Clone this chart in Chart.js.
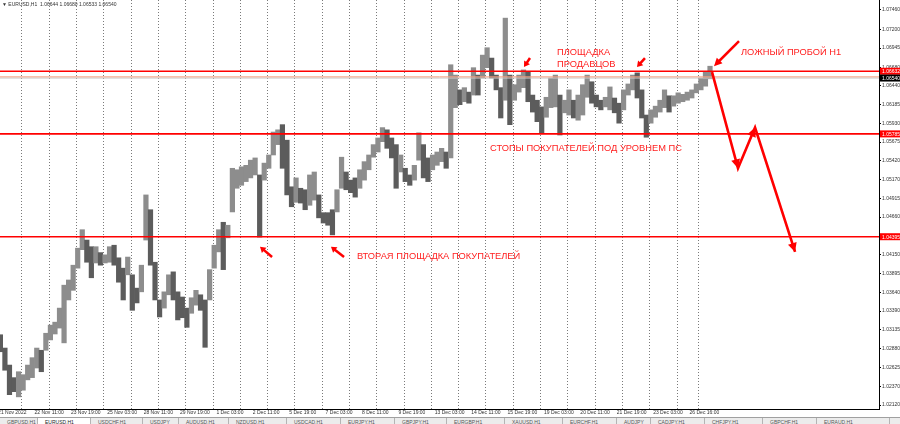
<!DOCTYPE html>
<html>
<head>
<meta charset="utf-8">
<script src="https://cdn.jsdelivr.net/npm/chart.js@4.4.1/dist/chart.umd.min.js"></script>
<style>
  html, body { margin: 0; padding: 0; background: #fff; }
  #wrap { position: relative; width: 900px; height: 424px; overflow: hidden; }
  #chart { position: absolute; left: 0; top: 0; }
  #tabs { position: absolute; left: 0; top: 417px; width: 900px; height: 7px; background: #ececec;
          border-top: 1px solid #a0a0a0; display: flex; font: 5px "Liberation Sans", sans-serif; color: #555; overflow: hidden; }
  .tab { box-sizing: border-box; height: 7px; border-right: 1px solid #b4b4b4; padding: 1px 0 0 7px; white-space: nowrap; overflow: hidden; }
  .tab.active { background: #fff; color: #222; }
</style>
</head>
<body>
<div id="wrap">
  <canvas id="chart" width="900" height="417"></canvas>
  <div id="tabs"></div>
</div>
<script>
// EURUSD H1, one entry per 4 hourly bars (low / high)
const lows = [
  1.0284, 1.0259, 1.0226, 1.0230, 1.0223, 1.0232, 1.0246, 1.0249, 1.0262, 1.0257,
  1.0286, 1.0300, 1.0308, 1.0316, 1.0296, 1.0354, 1.0367, 1.0397, 1.0422, 1.0405,
  1.0384, 1.0404, 1.0401, 1.0404, 1.0405, 1.0401, 1.0378, 1.0354, 1.0388, 1.0340,
  1.0350, 1.0365, 1.0435, 1.0401, 1.0354, 1.0331, 1.0343, 1.0361, 1.0354, 1.0327,
  1.0330, 1.0317, 1.0336, 1.0347, 1.0340, 1.0290, 1.0354, 1.0397, 1.0419, 1.0395,
  1.0438, 1.0473, 1.0505, 1.0509, 1.0514, 1.0519, 1.0523, 1.0439, 1.0516, 1.0532,
  1.0550, 1.0564, 1.0532, 1.0496, 1.0480, 1.0486, 1.0485, 1.0476, 1.0482, 1.0489,
  1.0465, 1.0458, 1.0455, 1.0442, 1.0473, 1.0505, 1.0503, 1.0499, 1.0493, 1.0505,
  1.0516, 1.0530, 1.0547, 1.0554, 1.0568, 1.0559, 1.0546, 1.0505, 1.0527, 1.0514,
  1.0509, 1.0516, 1.0543, 1.0519, 1.0514, 1.0530, 1.0536, 1.0541, 1.0532, 1.0546,
  1.0614, 1.0618, 1.0622, 1.0620, 1.0631, 1.0631, 1.0654, 1.0668, 1.0654, 1.0638,
  1.0600, 1.0624, 1.0591, 1.0624, 1.0635, 1.0641, 1.0622, 1.0608, 1.0595, 1.0580,
  1.0601, 1.0614, 1.0615, 1.0577, 1.0607, 1.0604, 1.0600, 1.0597, 1.0604, 1.0628,
  1.0620, 1.0615, 1.0611, 1.0615, 1.0611, 1.0607, 1.0593, 1.0611, 1.0631, 1.0638,
  1.0627, 1.0600, 1.0574, 1.0593, 1.0601, 1.0608, 1.0614, 1.0608, 1.0616, 1.0620,
  1.0622, 1.0624, 1.0627, 1.0634, 1.0638, 1.0643, 1.0653
];
const highs = [
  1.0307, 1.0289, 1.0266, 1.0249, 1.0257, 1.0253, 1.0266, 1.0276, 1.0289, 1.0286,
  1.0309, 1.0320, 1.0324, 1.0343, 1.0374, 1.0381, 1.0401, 1.0424, 1.0449, 1.0435,
  1.0426, 1.0426, 1.0418, 1.0415, 1.0426, 1.0428, 1.0411, 1.0397, 1.0412, 1.0388,
  1.0370, 1.0401, 1.0496, 1.0476, 1.0405, 1.0354, 1.0365, 1.0388, 1.0392, 1.0365,
  1.0358, 1.0343, 1.0357, 1.0367, 1.0361, 1.0354, 1.0395, 1.0428, 1.0449, 1.0459,
  1.0455, 1.0532, 1.0530, 1.0534, 1.0536, 1.0543, 1.0546, 1.0523, 1.0539, 1.0550,
  1.0581, 1.0584, 1.0591, 1.0570, 1.0507, 1.0519, 1.0505, 1.0503, 1.0523, 1.0527,
  1.0496, 1.0472, 1.0472, 1.0476, 1.0503, 1.0547, 1.0527, 1.0516, 1.0519, 1.0530,
  1.0541, 1.0550, 1.0564, 1.0573, 1.0587, 1.0584, 1.0573, 1.0564, 1.0550, 1.0532,
  1.0523, 1.0536, 1.0580, 1.0564, 1.0546, 1.0550, 1.0554, 1.0559, 1.0554, 1.0672,
  1.0658, 1.0638, 1.0641, 1.0635, 1.0668, 1.0658, 1.0685, 1.0695, 1.0681, 1.0658,
  1.0641, 1.0735, 1.0658, 1.0645, 1.0658, 1.0665, 1.0662, 1.0631, 1.0624, 1.0615,
  1.0628, 1.0654, 1.0658, 1.0631, 1.0624, 1.0638, 1.0624, 1.0631, 1.0645, 1.0658,
  1.0649, 1.0631, 1.0624, 1.0628, 1.0642, 1.0627, 1.0620, 1.0638, 1.0646, 1.0658,
  1.0661, 1.0638, 1.0604, 1.0611, 1.0616, 1.0624, 1.0638, 1.0630, 1.0630, 1.0634,
  1.0632, 1.0635, 1.0638, 1.0646, 1.0654, 1.0662, 1.0670
];

const timeLabels = [
  "21 Nov 2022", "22 Nov 11:00", "23 Nov 19:00", "25 Nov 03:00", "28 Nov 11:00",
  "29 Nov 19:00", "1 Dec 03:00", "2 Dec 11:00", "5 Dec 19:00", "7 Dec 03:00",
  "8 Dec 11:00", "9 Dec 19:00", "13 Dec 03:00", "14 Dec 11:00", "15 Dec 19:00",
  "19 Dec 03:00", "20 Dec 11:00", "21 Dec 19:00", "23 Dec 03:00", "26 Dec 16:00"
];
const timeTickBars = [0, 32, 64, 96, 128, 160, 192, 224, 256, 288, 320, 352, 384, 416, 448, 480, 512, 544, 576, 608];
const dayGridBars = [21, 45, 69, 93, 117, 141, 165, 189, 213, 237, 261, 285, 309, 333, 357, 381, 405, 429, 453, 477, 501, 525, 549, 573, 597, 616];

const priceTicks = [
  1.07460, 1.07200, 1.06945, 1.06680, 1.06440, 1.06185, 1.05930, 1.05675, 1.05420, 1.05170,
  1.04915, 1.04660, 1.04150, 1.03895, 1.03640, 1.03390, 1.03135, 1.02880, 1.02625, 1.02370, 1.02120
];

const levelPrices = [1.06632, 1.05785, 1.04395];
const askPrice = 1.06556;
const bidPrice = 1.06540;
const titleText = "\u25BC EURUSD,H1  1.06644 1.06680 1.06533 1.06540";

// drawn forecast path (bar index, price)
const forecastBars = [627.8, 650.6, 665.6, 700.8];
const forecastPrices = [1.0662, 1.0532, 1.0587, 1.0419];

// small pointer arrows: [fromBar, fromPrice, toBar, toPrice]
const pointerArrows = [
  [651.5, 1.0704, 629.5, 1.0670],
  [467.7, 1.0681, 462.4, 1.0669],
  [568.8, 1.0681, 561.8, 1.0669],
  [240.9, 1.0412, 230.3, 1.0426],
  [304.2, 1.0412, 292.7, 1.0426]
];

const notes = [
  ["ПЛОЩАДКА", 557, 52],
  ["ПРОДАВЦОВ", 557, 64],
  ["ЛОЖНЫЙ ПРОБОЙ Н1", 741, 52],
  ["СТОПЫ ПОКУПАТЕЛЕЙ ПОД УРОВНЕМ ПС", 490, 148],
  ["ВТОРАЯ ПЛОЩАДКА ПОКУПАТЕЛЕЙ", 357, 256]
];

const tabNames = ["GBPUSD,H1", "EURUSD,H1", "USDCHF,H1", "USDJPY", "AUDUSD,H1", "NZDUSD,H1", "USDCAD,H1",
  "EURJPY,H1", "GBPJPY,H1", "EURGBP,H1", "XAUUSD,H1", "EURCHF,H1", "AUDJPY", "CADJPY,H1", "CHFJPY,H1", "GBPCHF,H1", "EURAUD,H1"];
const tabWidths = [38, 53, 52, 36, 50, 58, 54, 54, 52, 58, 58, 54, 34, 54, 58, 54, 73];

const X_MIN = 1.67, X_MAX = 774.6;
const Y_MIN = 1.02066, Y_MAX = 1.07595;
const RED = "#ff0000";
const UP = "#8d8d8d", DOWN = "#5c5c5c";

const tabs = document.getElementById("tabs");
tabNames.forEach((name, i) => {
  const d = document.createElement("div");
  d.className = "tab" + (i === 1 ? " active" : "");
  d.style.width = tabWidths[i] + "px";
  d.textContent = name;
  tabs.appendChild(d);
});

const sampleBars = lows.map((_, i) => i * 4 + 2);
const barColors = lows.map((lo, i) => {
  if (i === 0) return DOWN;
  const mid = (lo + highs[i]) / 2;
  const prev = (lows[i - 1] + highs[i - 1]) / 2;
  return mid >= prev ? UP : DOWN;
});

function hLine(price, color, width) {
  return {
    type: "line",
    data: [{ x: X_MIN, y: price }, { x: X_MAX, y: price }],
    borderColor: color,
    borderWidth: width,
    pointRadius: 0,
    order: 2
  };
}

function arrowHead(ctx, x0, y0, x1, y1, len, half) {
  const a = Math.atan2(y1 - y0, x1 - x0);
  const bx = x1 - len * Math.cos(a), by = y1 - len * Math.sin(a);
  ctx.beginPath();
  ctx.moveTo(x1, y1);
  ctx.lineTo(bx + half * Math.sin(a), by - half * Math.cos(a));
  ctx.lineTo(bx - half * Math.sin(a), by + half * Math.cos(a));
  ctx.closePath();
  ctx.fill();
}

const overlay = {
  id: "overlay",
  afterDatasetsDraw(chart) {
    const { ctx, scales } = chart;
    const px = b => scales.x.getPixelForValue(b);
    const py = p => scales.y.getPixelForValue(p);
    ctx.save();
    ctx.fillStyle = RED;
    ctx.strokeStyle = RED;

    for (let i = 1; i < forecastBars.length; i++) {
      arrowHead(ctx, px(forecastBars[i - 1]), py(forecastPrices[i - 1]),
        px(forecastBars[i]), py(forecastPrices[i]), 9, 4.5);
    }

    pointerArrows.forEach((a, i) => {
      const x0 = px(a[0]), y0 = py(a[1]), x1 = px(a[2]), y1 = py(a[3]);
      const big = i === 0;
      const len = big ? 8 : 5.5;
      const ang = Math.atan2(y1 - y0, x1 - x0);
      ctx.lineWidth = 2.5;
      ctx.beginPath();
      ctx.moveTo(x0, y0);
      ctx.lineTo(x1 - (len - 1) * Math.cos(ang), y1 - (len - 1) * Math.sin(ang));
      ctx.stroke();
      arrowHead(ctx, x0, y0, x1, y1, len, big ? 4 : 3.5);
    });

    ctx.font = '9.3px "Liberation Sans", Arial, sans-serif';
    ctx.textBaseline = "middle";
    ctx.textAlign = "left";
    ctx.fillStyle = "#ff2020";
    notes.forEach(n => ctx.fillText(n[0], n[1], n[2]));
    ctx.restore();
  },
  afterDraw(chart) {
    const { ctx, scales, chartArea } = chart;
    const py = p => scales.y.getPixelForValue(p);
    ctx.save();
    ctx.font = '5px "Liberation Sans", Arial, sans-serif';
    ctx.textBaseline = "middle";
    ctx.textAlign = "left";
    const box = (price, bg) => {
      const y = py(price);
      ctx.fillStyle = bg;
      ctx.fillRect(chartArea.right + 1, y - 3.5, 900 - chartArea.right, 7);
      ctx.fillStyle = "#fff";
      ctx.fillText(price.toFixed(5), chartArea.right + 3, y + 0.5);
    };
    levelPrices.forEach(p => box(p, RED));
    box(bidPrice, "#000");

    ctx.fillStyle = "#333";
    ctx.fillText(titleText, 2, 4.5);
    ctx.restore();
  }
};

new Chart(document.getElementById("chart"), {
  type: "bar",
  data: {
    datasets: [
      {
        type: "bar",
        data: sampleBars.map((b, i) => ({ x: b, y: [lows[i], highs[i]] })),
        backgroundColor: barColors,
        barPercentage: 1,
        categoryPercentage: 1,
        order: 3
      },
      ...levelPrices.map(p => hLine(p, RED, 1.6)),
      hLine(askPrice, "#f5a080", 1),
      hLine(bidPrice, "#c8c8c8", 1),
      {
        type: "line",
        data: forecastBars.map((b, i) => ({ x: b, y: forecastPrices[i] })),
        borderColor: RED,
        borderWidth: 2.6,
        pointRadius: 0,
        tension: 0,
        order: 1
      }
    ]
  },
  options: {
    responsive: false,
    animation: false,
    devicePixelRatio: 1,
    layout: { padding: 0 },
    plugins: { legend: { display: false }, tooltip: { enabled: false } },
    scales: {
      x: {
        type: "linear",
        position: "bottom",
        offset: false,
        min: X_MIN,
        max: X_MAX,
        afterBuildTicks: s => { s.ticks = timeTickBars.map(v => ({ value: v })); },
        afterFit: s => { s.height = 8; s.paddingLeft = 0; s.paddingRight = 0; },
        ticks: {
          autoSkip: false,
          maxRotation: 0,
          align: "start",
          padding: 1,
          color: "#333",
          font: { family: "Liberation Sans", size: 5 },
          callback: (v, i) => timeLabels[i]
        },
        grid: { display: false, drawTicks: false, tickLength: 0, offset: false },
        border: { color: "#000", width: 1 }
      },
      xg: {
        type: "linear",
        position: "bottom",
        offset: false,
        min: X_MIN,
        max: X_MAX,
        afterBuildTicks: s => { s.ticks = dayGridBars.map(v => ({ value: v })); },
        afterFit: s => { s.height = 0; s.paddingLeft = 0; s.paddingRight = 0; },
        ticks: { display: false, autoSkip: false },
        grid: { color: "#7a7a7a", lineWidth: 1, drawTicks: false, offset: false },
        border: { display: false, dash: [1, 2] }
      },
      y: {
        type: "linear",
        position: "right",
        min: Y_MIN,
        max: Y_MAX,
        afterBuildTicks: s => { s.ticks = priceTicks.map(v => ({ value: v })); },
        afterFit: s => { s.width = 21; s.paddingTop = 0; s.paddingBottom = 0; },
        ticks: {
          autoSkip: false,
          padding: 1,
          color: "#333",
          font: { family: "Liberation Sans", size: 5 },
          callback: v => v.toFixed(5)
        },
        grid: { drawOnChartArea: false, drawTicks: true, tickLength: 2, color: "#000" },
        border: { color: "#000", width: 1 }
      }
    }
  },
  plugins: [overlay]
});
</script>
</body>
</html>
